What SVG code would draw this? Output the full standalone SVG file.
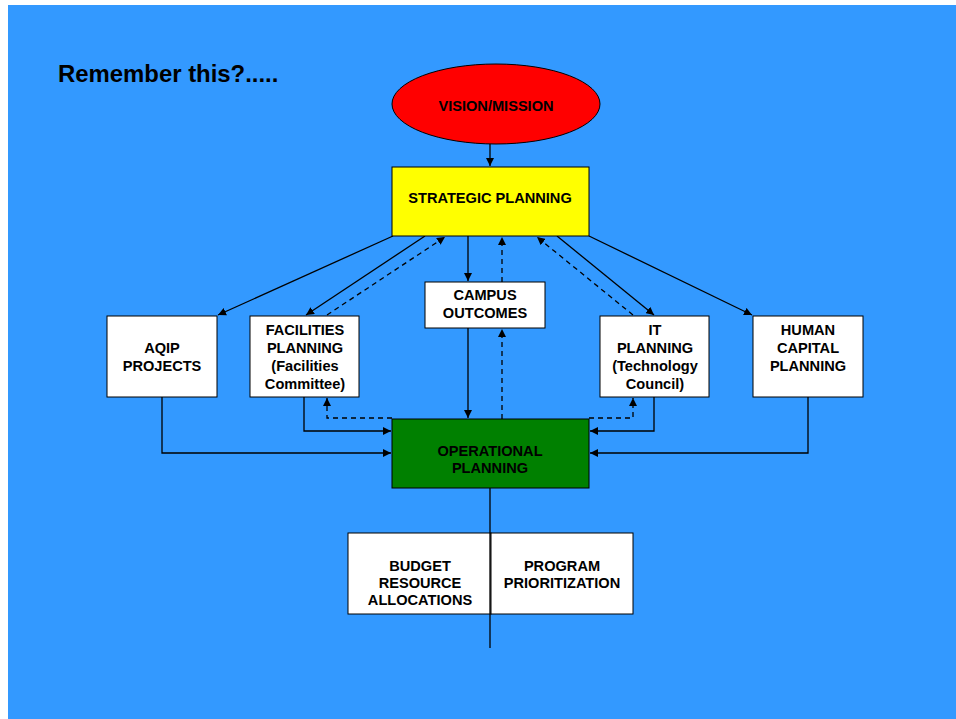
<svg xmlns="http://www.w3.org/2000/svg" width="956" height="719" viewBox="0 0 956 719">
<defs>
<style>
.t{font-family:"Liberation Sans",Arial,sans-serif;font-weight:bold;font-size:14.6px;fill:#000;text-anchor:middle}
.box{fill:#fff;stroke:#000;stroke-width:1}
.c{fill:none;stroke:#000;stroke-width:1.3}
.d{fill:none;stroke:#000;stroke-width:1.3;stroke-dasharray:5 4}
</style>
<marker id="a" viewBox="0 0 10 10" refX="10" refY="5" markerWidth="8" markerHeight="8" markerUnits="userSpaceOnUse" orient="auto">
<path d="M0,0 L10,5 L0,10 Z" fill="#000"/>
</marker>
</defs>
<rect x="0" y="0" width="956" height="719" fill="#fff"/>
<rect x="8" y="5" width="948" height="714" fill="#3399FF"/>
<text x="58" y="82" style="font-family:'Liberation Sans',Arial,sans-serif;font-weight:bold;font-size:23.9px">Remember this?.....</text>

<g id="connectors">
<path class="c" d="M490,144 V166" marker-end="url(#a)"/>
<path class="c" d="M393,236 L218,315" marker-end="url(#a)"/>
<path class="c" d="M425,236 L306,315" marker-end="url(#a)"/>
<path class="d" d="M327,315 L445,237" marker-end="url(#a)"/>
<path class="c" d="M468,236 V281" marker-end="url(#a)"/>
<path class="d" d="M502,282 V237" marker-end="url(#a)"/>
<path class="d" d="M502,419 V329" marker-end="url(#a)"/>
<path class="c" d="M468,328 V418" marker-end="url(#a)"/>
<path class="c" d="M557,236 L654,315" marker-end="url(#a)"/>
<path class="d" d="M633,315 L537,237" marker-end="url(#a)"/>
<path class="c" d="M589,236 L752,315" marker-end="url(#a)"/>
<path class="c" d="M304,397 V431 H391" marker-end="url(#a)"/>
<path class="d" d="M392,418 H327 V398" marker-end="url(#a)"/>
<path class="c" d="M162,397 V453 H391" marker-end="url(#a)"/>
<path class="c" d="M654,397 V431 H590" marker-end="url(#a)"/>
<path class="d" d="M589,418 H633 V398" marker-end="url(#a)"/>
<path class="c" d="M808,397 V453 H590" marker-end="url(#a)"/>
</g>

<g id="vision">
<ellipse cx="496" cy="104" rx="104" ry="40" fill="#FF0000" stroke="#000" stroke-width="1"/>
<text class="t" x="496" y="111">VISION/MISSION</text>
</g>
<g id="strategic">
<rect x="392" y="167" width="197" height="69" fill="#FFFF00" stroke="#000" stroke-width="1"/>
<text class="t" x="490" y="203">STRATEGIC PLANNING</text>
</g>
<g id="campus">
<rect class="box" x="425" y="282" width="120" height="46"/>
<text class="t" x="485" y="300">CAMPUS</text>
<text class="t" x="485" y="318">OUTCOMES</text>
</g>
<g id="aqip">
<rect class="box" x="107" y="316" width="110" height="81"/>
<text class="t" x="162" y="353">AQIP</text>
<text class="t" x="162" y="371">PROJECTS</text>
</g>
<g id="facilities">
<rect class="box" x="250" y="316" width="109" height="81"/>
<text class="t" x="305" y="335">FACILITIES</text>
<text class="t" x="305" y="353">PLANNING</text>
<text class="t" x="305" y="371">(Facilities</text>
<text class="t" x="305" y="389">Committee)</text>
</g>
<g id="it">
<rect class="box" x="600" y="316" width="109" height="81"/>
<text class="t" x="655" y="335">IT</text>
<text class="t" x="655" y="353">PLANNING</text>
<text class="t" x="655" y="371">(Technology</text>
<text class="t" x="655" y="389">Council)</text>
</g>
<g id="human">
<rect class="box" x="753" y="316" width="110" height="81"/>
<text class="t" x="808" y="335">HUMAN</text>
<text class="t" x="808" y="353">CAPITAL</text>
<text class="t" x="808" y="371">PLANNING</text>
</g>
<g id="operational">
<rect x="392" y="419" width="197" height="69" fill="#008000" stroke="#000" stroke-width="1"/>
<text class="t" x="490" y="456">OPERATIONAL</text>
<text class="t" x="490" y="473">PLANNING</text>
</g>
<g id="budget">
<rect class="box" x="348" y="533" width="143" height="81"/>
<text class="t" x="420" y="571">BUDGET</text>
<text class="t" x="420" y="588">RESOURCE</text>
<text class="t" x="420" y="605">ALLOCATIONS</text>
</g>
<g id="program">
<rect class="box" x="491" y="533" width="142" height="81"/>
<text class="t" x="562" y="571">PROGRAM</text>
<text class="t" x="562" y="588">PRIORITIZATION</text>
</g>
<g id="stem">
<path class="c" d="M490,488 V648"/>
</g>
</svg>
